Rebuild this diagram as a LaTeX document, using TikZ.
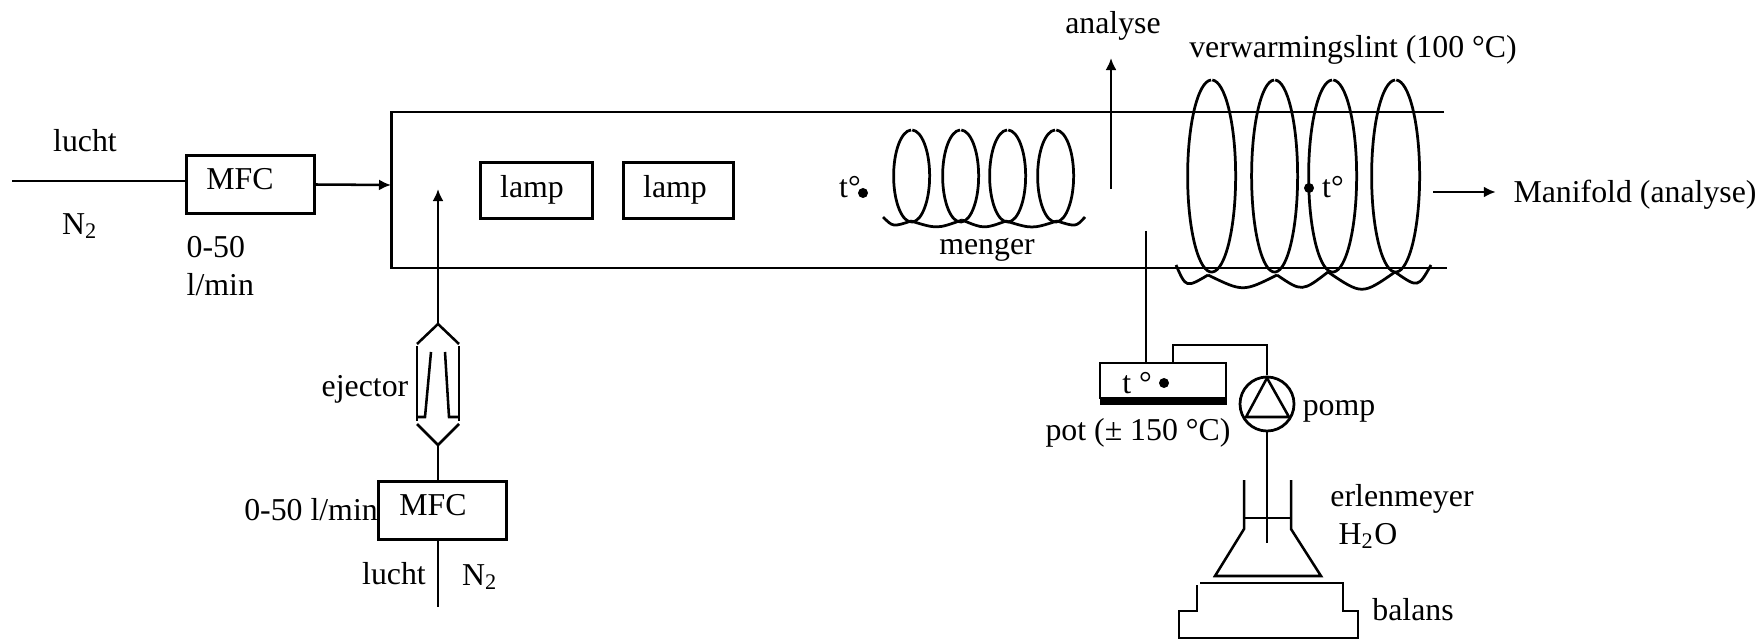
\documentclass[tikz,border=0pt]{standalone}
\usepackage{fontspec}
\setmainfont{Liberation Serif}
\usetikzlibrary{arrows.meta}

\begin{document}
\begin{tikzpicture}[
        x=0.01cm, y=-0.01cm,
        pipe/.style={line width=0.72pt, color=black},
        wall/.style={line width=0.85pt, color=black},
        coil/.style={line width=0.78pt, color=black},
        arrow/.style={pipe, -{Latex[length=0.12cm, width=0.11cm]}},
        box/.style={draw=black, line width=0.78pt, inner sep=0pt, outer sep=0pt},
        lbl/.style={font=\fontsize{9.05}{10}\selectfont, inner sep=0pt, align=center},
        dot/.style={circle, fill=black, inner sep=0pt, minimum size=0.1cm}
    ]
    \useasboundingbox (0,0) rectangle (1764,640);

    % --- Main tube ---
    \draw[wall] (1444,112) -- (391,112) -- (391,268) -- (1447,268);

    % --- Inlet with air, top left ---
    \coordinate (inA) at (12,181);
    \coordinate (wallA) at (391,185);
    \node[box, minimum width=1.28cm, minimum height=0.58cm] (mfcA) at (250.5,184.5) {};
    \node[lbl] (mfcAtxt) at (240,179) {MFC};
    \draw[pipe] (inA) -- (inA -| mfcA.west);
    \draw[arrow] (mfcA.east) -- (wallA);
    \node[lbl] (luchtA) at (85,141) {lucht};
    \node[lbl] (stikA) at (80,226) {N\textsubscript{2}};
    \node[lbl, anchor=west] (flowA) at (186,247) {0-50};
    \node[lbl, anchor=west] (flowAb) at (186,285) {l/min};

    % --- Lamps ---
    \node[box, minimum width=1.12cm, minimum height=0.56cm] (lampA) at (536.5,190.5) {};
    \node[box, minimum width=1.10cm, minimum height=0.56cm] (lampB) at (678.5,190.5) {};
    \node[lbl] (lampAtxt) at (532,190) {lamp};
    \node[lbl] (lampBtxt) at (675,190) {lamp};

    % --- Ejector ---
    \coordinate (ejTop) at (438,324);
    \coordinate (ejBot) at (438,445);
    \coordinate (ejOut) at (438,189);
    \draw[arrow] (ejTop) -- (ejOut);
    \draw[pipe] (417,344) -- (ejTop) -- (459,344);
    \draw[pipe] (417,424) -- (ejBot) -- (459,424);
    \draw[pipe] (417,346) -- (417,421);
    \draw[pipe] (459,346) -- (459,421);
    \draw[pipe] (417,417) -- (425,417) -- (431,352);
    \draw[pipe] (459,417) -- (449,417) -- (445,352);
    \node[lbl] (ejLbl) at (365,389) {ejector};

    % --- Second mass flow controller ---
    \node[box, minimum width=1.28cm, minimum height=0.58cm] (mfcB) at (442.5,510.5) {};
    \node[lbl] (mfcBtxt) at (433,505) {MFC};
    \coordinate (inB) at (438,607);
    \draw[pipe] (ejBot) -- (ejBot |- mfcB.north);
    \draw[pipe] (inB |- mfcB.south) -- (inB);
    \node[lbl] (flowB) at (311,510) {0-50 l/min};
    \node[lbl] (luchtB) at (394,574) {lucht};
    \node[lbl] (stikB) at (480,577) {N\textsubscript{2}};

    % --- Menger ---
    \node[lbl] (tempA) at (850,187) {t°};
    \node[dot] (dotA) at (863,193) {};
    \foreach \cx in {911,960,1007,1055} {
        \draw[coil] (\cx,130) arc[start angle=92, delta angle=356, x radius=0.18cm, y radius=0.46cm];
    }
    \foreach \xa/\ya/\xc/\yc/\xb/\yb in {
        883/217/893/227/911/221,
        911/221/937/229/962/220,
        962/220/984/229/1006/221,
        1006/221/1032/229/1057/221,
        1057/221/1076/227/1085/217
    } {
        \draw[coil] (\xa,\ya) .. controls (\xc,\yc) .. (\xb,\yb);
    }
    \node[lbl] (mengerLbl) at (987,250) {menger};

    % --- Exit to analysis ---
    \coordinate (anaIn) at (1111,189);
    \coordinate (anaOut) at (1111,58);
    \draw[arrow] (anaIn) -- (anaOut);
    \node[lbl] (anaLbl) at (1113,26) {analyse};

    % --- Heating tape ---
    \foreach \cx/\rx in {1211/0.24,1274/0.23,1332/0.24,1395/0.24} {
        \draw[coil] (\cx,80) arc[start angle=91.5, delta angle=357, x radius=\rx cm, y radius=0.96cm];
    }
    \foreach \xa/\ya/\xc/\yc/\xb/\yb in {
        1176/265/1186/288/1208/275,
        1208/275/1243/292/1277/275,
        1277/275/1302/292/1328/272,
        1328/272/1362/295/1395/272,
        1395/272/1418/288/1431/265
    } {
        \draw[coil] (\xa,\ya) .. controls (\xc,\yc) .. (\xb,\yb);
    }
    \node[lbl] (lintLbl) at (1353,50) {verwarmingslint (100 °C)};
    \node[dot] (dotB) at (1309,188) {};
    \node[lbl] (tempB) at (1333,187) {t°};

    % --- Manifold ---
    \coordinate (manIn) at (1433,192);
    \node[lbl] (manLbl) at (1635,195) {Manifold (analyse)};
    \draw[arrow] (manIn) -- ([xshift=-0.17cm]manLbl.west |- manIn);

    % --- Pot and pump ---
    \node[box, minimum width=1.26cm, minimum height=0.35cm] (potBox) at (1163,380.5) {};
    \fill[black] (1099.5,397) rectangle (1226.5,405);
    \node[lbl] (tempC) at (1137,383) {t °};
    \node[dot] (dotC) at (1164,383) {};
    \node[lbl] (potLbl) at (1138,433) {pot (± 150 °C)};
    \coordinate (potIn) at (1146,231);
    \draw[pipe] (potIn) -- (potIn |- potBox.north);
    \node[circle, draw=black, line width=0.78pt, inner sep=0pt, outer sep=0pt, minimum size=0.54cm] (pompC) at (1267,404) {};
    \coordinate (pipeA) at (1173,345);
    \coordinate (pipeB) at (1267,375);
    \draw[pipe] (pipeA |- potBox.north) -- (pipeA) -- (pipeA -| pipeB) -- (pipeB);
    \draw[pipe] (1267,378) -- (1246,417) -- (1289,417) -- cycle;
    \node[lbl] (pompLbl) at (1339,411) {pomp};

    % --- Erlenmeyer ---
    \coordinate (erlIn) at (1267,543);
    \draw[pipe] (pompC.south) ++(0,1) -- (erlIn);
    \draw[pipe] (1244,480) -- (1244,529) -- (1215,576) -- (1321,576) -- (1291,529) -- (1291,480);
    \draw[pipe] (1244,518) -- (1291,518);
    \node[lbl] (erlLbl) at (1402,499) {erlenmeyer};
    \node[lbl] (waterLbl) at (1368,536) {H\textsubscript{2}O};

    % --- Balance ---
    \draw[pipe] (1200,583) -- (1343,583) -- (1343,611) -- (1358,611) -- (1358,638) -- (1179,638) -- (1179,611) -- (1197,611) -- (1197,585);
    \node[lbl] (balLbl) at (1413,610) {balans};
\end{tikzpicture}
\end{document}
